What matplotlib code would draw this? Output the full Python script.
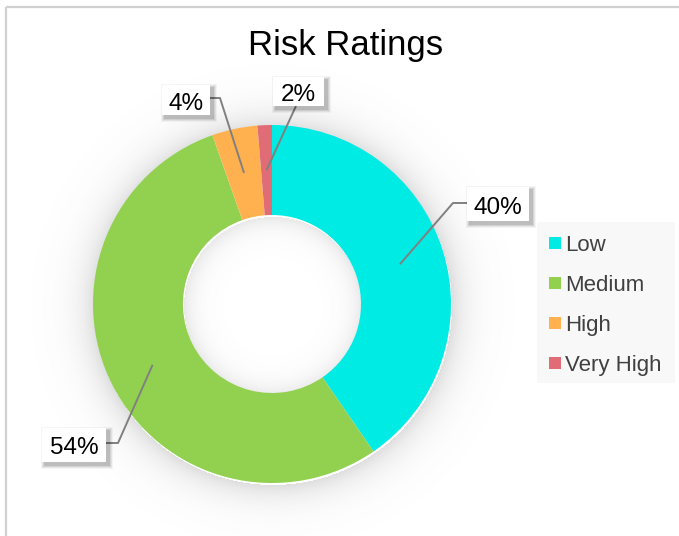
import numpy as np
import matplotlib
matplotlib.use("Agg")
import matplotlib.pyplot as plt
from matplotlib.patches import Rectangle

plt.rcParams['font.family'] = ['Liberation Sans', 'DejaVu Sans']

# ---- data ----
categories = ["Low", "Medium", "High", "Very High"]
values = [40.4, 54.2, 4.1, 1.3]
pct_labels = ["40%", "54%", "4%", "2%"]
colors = ["#00EBE4", "#92D14F", "#FFB14F", "#E06D76"]
title = "Risk Ratings"

W, H = 679, 536
fig = plt.figure(figsize=(W / 100, H / 100), dpi=100)
ax = fig.add_axes([0, 0, 1, 1])

def P(x, y):
    return (x, H - y)

cx, cy = 272, 304
R_out, R_in = 179, 89

# soft shadow around the ring
yy, xx = np.mgrid[0:H, 0:W]
d = np.hypot(xx + 0.5 - cx - 1, yy + 0.5 - cy - 2)
alpha = np.zeros_like(d)
m_out = d > R_out
alpha[m_out] = 0.20 * np.exp(-(d[m_out] - R_out) / 16.0)
m_in = d < R_in
alpha[m_in] = 0.14 * np.exp(-(R_in - d[m_in]) / 11.0)
img = np.zeros((H, W, 4))
img[..., :3] = 0.35
img[..., 3] = alpha
ax.imshow(img, extent=(0, W, 0, H), origin='upper', zorder=0, interpolation='bilinear')

wedges, _ = ax.pie(values, colors=colors, startangle=90, counterclock=False,
                   radius=R_out, center=P(cx, cy),
                   wedgeprops=dict(width=R_out - R_in, edgecolor='none', linewidth=0))
for w in wedges:
    w.set_zorder(2)

ax.set_xlim(0, W)
ax.set_ylim(0, H)
ax.set_aspect('auto')
ax.axis('off')

# anchors at middle of ring for each wedge
total = sum(values)
cum = np.cumsum([0] + values[:-1])
r_mid = (R_out + R_in) / 2
anchors = []
for c, v in zip(cum, values):
    frac = (c + v / 2) / total
    ang = np.deg2rad(90 - 360 * frac)
    anchors.append((cx + r_mid * np.cos(ang), cy - r_mid * np.sin(ang)))

# label boxes (x0, y0, x1, y1) and leader polylines (elbow points)
boxes = [(467, 187, 529, 221), (42, 428, 106, 462), (162, 85, 210, 115), (273, 77, 324, 106)]
elbows = [[(453, 203), (467, 203)], [(118, 443), (106, 443)],
          [(220, 98), (210, 98)], [(296, 106)]]

for (x0, y0, x1, y1), el, anc, lab in zip(boxes, elbows, anchors, pct_labels):
    pts = [anc] + el
    ax.plot([p[0] for p in pts], [H - p[1] for p in pts], color='#808080', lw=1.4, zorder=3,
            solid_capstyle='butt')
    # soft shadow, offset down-right
    for k, a in enumerate([0.04, 0.06, 0.08, 0.10]):
        off = 4 - k
        ax.add_patch(Rectangle((x0 + 3 - off, H - y1 - 3 - off), (x1 - x0) + 2 * off,
                               (y1 - y0) + 2 * off, facecolor='black', alpha=a,
                               edgecolor='none', zorder=4))
    ax.add_patch(Rectangle((x0, H - y1), x1 - x0, y1 - y0, facecolor='white',
                           edgecolor='none', zorder=5))
    ax.text((x0 + x1) / 2, H - (y0 + y1) / 2 - 1, lab, ha='center', va='center_baseline',
            fontsize=17.5, color='black', zorder=6)

# title
ax.text(346, H - 46, title, ha='center', va='center', fontsize=25, color='black', zorder=6)

# legend
ax.add_patch(Rectangle((537, H - 383), 138, 161, facecolor='#f8f8f8', edgecolor='none', zorder=1))
for i, (cat, col) in enumerate(zip(categories, colors)):
    yc = 243 + 40 * i
    ax.add_patch(Rectangle((549, H - yc - 6), 12, 12, facecolor=col, edgecolor='none', zorder=6))
    ax.text(565, H - yc, cat, ha='left', va='center_baseline', fontsize=16,
            color='#404040', zorder=6)

# frame
ax.plot([6, 6], [0, H - 7], color='#d0d0d0', lw=1.6, zorder=7, solid_capstyle='butt')
ax.plot([6, W], [H - 7, H - 7], color='#d0d0d0', lw=1.6, zorder=7, solid_capstyle='butt')

fig.savefig("out.png", dpi=100)
